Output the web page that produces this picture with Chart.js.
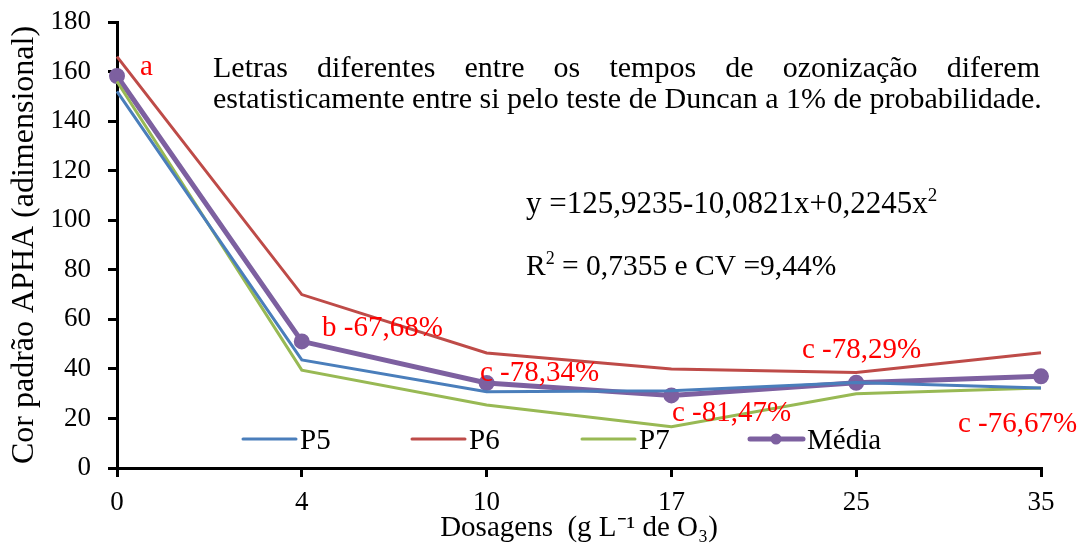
<!DOCTYPE html>
<html>
<head>
<meta charset="utf-8">
<script src="https://cdn.jsdelivr.net/npm/chart.js@4.4.1/dist/chart.umd.min.js"></script>
<style>
  html, body { margin: 0; padding: 0; background: #fff; }
  #wrap { width: 1081px; height: 546px; }
</style>
</head>
<body>
<div id="wrap"><canvas id="grafico"></canvas></div>
<script>
// dados
const dosagens = ["0", "4", "10", "17", "25", "35"];
const p5 = [152, 43.6, 30.8, 31.2, 34.5, 32.3];
const p6 = [166, 70, 46.4, 40, 38.5, 46.5];
const p7 = [156, 39.5, 25.4, 16.7, 30, 32.3];
const media = [158.2, 51.1, 34.3, 29.3, 34.4, 37];
const rotulosLetras = ["a", "b -67,68%", "c -78,34%", "c -81,47%", "c -78,29%", "c -76,67%"];
const ticksY = [0, 20, 40, 60, 80, 100, 120, 140, 160, 180];

const FONTE = "'Liberation Serif', 'Times New Roman', serif";

// texto com expoente pequeno (x², R²)
function textoComExpoente(ctx, partes, x, y, tam) {
  partes.forEach(([t, sup]) => {
    ctx.font = (sup ? Math.round(tam * 0.62) : tam) + "px " + FONTE;
    ctx.fillText(t, x, sup ? y - tam * 0.38 : y);
    x += ctx.measureText(t).width;
  });
}

// textos desenhados por cima do gráfico
const textosPlugin = {
  id: "textos",
  afterDraw(chart) {
    const ctx = chart.ctx;
    ctx.save();
    ctx.textBaseline = "alphabetic";
    ctx.textAlign = "left";

    // letras / percentuais em vermelho
    const posLetras = [[140, 75], [322, 336], [480, 381], [672, 421], [802, 358], [958, 432]];
    ctx.font = "29px " + FONTE;
    ctx.fillStyle = "#ff0000";
    rotulosLetras.forEach((t, i) => ctx.fillText(t, posLetras[i][0], posLetras[i][1]));

    // nota em texto justificado
    ctx.fillStyle = "#000";
    ctx.font = "30px " + FONTE;
    const linha1 = "Letras diferentes entre os tempos de ozonização diferem".split(" ");
    const larg = linha1.reduce((a, w) => a + ctx.measureText(w).width, 0);
    const esp = (1040 - 213 - larg) / (linha1.length - 1);
    let x = 213;
    linha1.forEach(w => { ctx.fillText(w, x, 77); x += ctx.measureText(w).width + esp; });
    ctx.fillText("estatisticamente entre si pelo teste de Duncan a 1% de probabilidade.", 213, 108);

    // equação
    textoComExpoente(ctx, [["y =125,9235-10,0821x+0,2245x", false], ["2", true]], 526, 213, 31);
    textoComExpoente(ctx, [["R", false], ["2", true], [" = 0,7355 e CV =9,44%", false]], 526, 275, 29.5);

    // legenda dentro da área do gráfico
    const posLeg = [243, 412, 582, 750];
    ctx.font = "29px " + FONTE;
    chart.data.datasets.forEach((ds, i) => {
      const x0 = posLeg[i];
      ctx.strokeStyle = ds.borderColor;
      ctx.lineWidth = ds.borderWidth;
      ctx.lineCap = "round";
      ctx.beginPath();
      ctx.moveTo(x0, 439);
      ctx.lineTo(x0 + 53, 439);
      ctx.stroke();
      if (ds.pointRadius > 0) {
        ctx.fillStyle = ds.borderColor;
        ctx.beginPath();
        ctx.arc(x0 + 26, 439, ds.pointRadius, 0, Math.PI * 2);
        ctx.fill();
      }
      ctx.fillStyle = "#000";
      ctx.fillText(ds.label, x0 + 57, 449);
    });
    ctx.restore();
  }
};

new Chart(document.getElementById("grafico"), {
  type: "line",
  data: {
    labels: dosagens,
    datasets: [
      { label: "P5", data: p5, borderColor: "#4a7ebb", borderWidth: 3, pointRadius: 0, tension: 0 },
      { label: "P6", data: p6, borderColor: "#be4b48", borderWidth: 3, pointRadius: 0, tension: 0 },
      { label: "P7", data: p7, borderColor: "#98b954", borderWidth: 3, pointRadius: 0, tension: 0 },
      { label: "Média", data: media, borderColor: "#7d60a0", backgroundColor: "#7d60a0", borderWidth: 5, pointRadius: 5.5, pointBackgroundColor: "#7d60a0", tension: 0 }
    ]
  },
  options: {
    responsive: true,
    maintainAspectRatio: false,
    animation: false,
    layout: { padding: { top: 22, right: 40, left: 0, bottom: 0 } },
    plugins: {
      legend: { display: false },
      tooltip: { enabled: false }
    },
    scales: {
      x: {
        afterFit: s => { s.height = 78; },
        grid: { drawOnChartArea: false, color: "#000", lineWidth: 3, tickLength: 9 },
        border: { color: "#000", width: 3 },
        ticks: { color: "#000", font: { family: FONTE, size: 27 }, padding: 10, maxRotation: 0 },
        title: {
          display: true,
          text: "Dosagens  (g L⁻¹ de O₃)",
          color: "#000",
          font: { family: FONTE, size: 29 },
          padding: { top: -12, bottom: 0 }
        }
      },
      y: {
        min: 0,
        max: 180,
        afterFit: s => { s.width = 117; s.paddingTop = 0; s.paddingBottom = 0; },
        afterBuildTicks: s => { s.ticks = ticksY.map(v => ({ value: v })); },
        grid: { drawOnChartArea: false, color: "#000", lineWidth: 3, tickLength: 9 },
        border: { color: "#000", width: 3 },
        ticks: { color: "#000", font: { family: FONTE, size: 27 }, padding: 17 },
        title: {
          display: true,
          text: "Cor padrão APHA (adimensional)",
          color: "#000",
          font: { family: FONTE, size: 32 },
          padding: { top: 5, bottom: 0 }
        }
      }
    }
  },
  plugins: [textosPlugin]
});
</script>
</body>
</html>
